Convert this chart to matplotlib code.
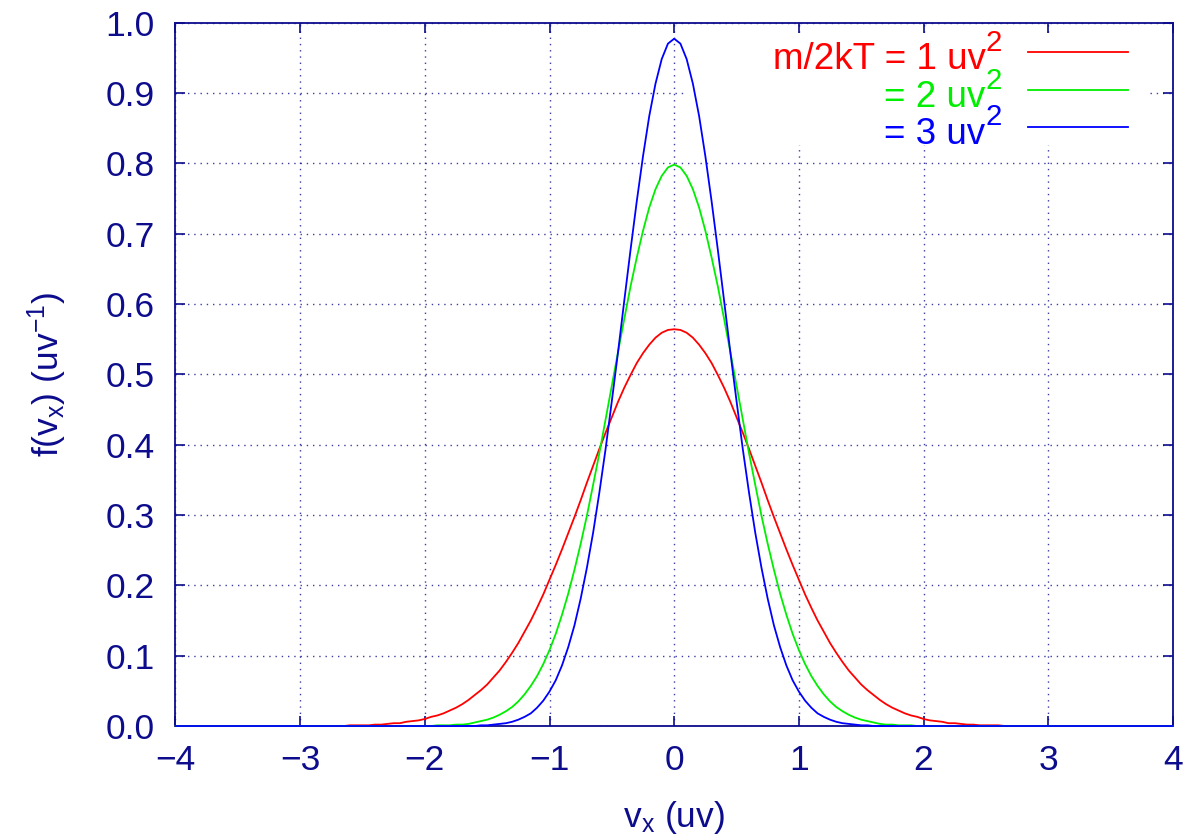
import numpy as np
import matplotlib
matplotlib.use('Agg')
import matplotlib.pyplot as plt
from matplotlib.ticker import FormatStrFormatter, MultipleLocator
from matplotlib.patches import Rectangle

# f(v_x) for v_x = 0, 0.05, ..., 3.0 (curves are symmetric)
v_half = [k / 20 for k in range(0, 61)]

f1_half = [0.564, 0.563, 0.559, 0.552, 0.542, 0.530, 0.516, 0.499, 0.481, 0.461,
           0.439, 0.417, 0.394, 0.370, 0.346, 0.321, 0.297, 0.274, 0.251, 0.229,
           0.208, 0.187, 0.168, 0.150, 0.134, 0.118, 0.104, 0.091, 0.079, 0.069,
           0.059, 0.051, 0.044, 0.037, 0.031, 0.026, 0.022, 0.018, 0.015, 0.013,
           0.010, 0.008, 0.007, 0.006, 0.004, 0.004, 0.003, 0.002, 0.002, 0.001,
           0.001, 0.001, 0.001, 0.000, 0.000, 0.000, 0.000, 0.000, 0.000, 0.000,
           0.000]

f2_half = [0.798, 0.794, 0.782, 0.763, 0.737, 0.704, 0.666, 0.625, 0.579, 0.532,
           0.484, 0.436, 0.388, 0.343, 0.299, 0.259, 0.222, 0.188, 0.158, 0.131,
           0.108, 0.088, 0.071, 0.057, 0.045, 0.035, 0.027, 0.021, 0.016, 0.012,
           0.009, 0.007, 0.005, 0.003, 0.002, 0.002, 0.001, 0.001, 0.001, 0.000,
           0.000, 0.000, 0.000, 0.000, 0.000, 0.000, 0.000, 0.000, 0.000, 0.000,
           0.000, 0.000, 0.000, 0.000, 0.000, 0.000, 0.000, 0.000, 0.000, 0.000,
           0.000]

f3_half = [0.977, 0.970, 0.948, 0.913, 0.867, 0.810, 0.746, 0.677, 0.605, 0.532,
           0.462, 0.394, 0.332, 0.275, 0.225, 0.181, 0.143, 0.112, 0.086, 0.065,
           0.049, 0.036, 0.026, 0.018, 0.013, 0.009, 0.006, 0.004, 0.003, 0.002,
           0.001, 0.001, 0.000, 0.000, 0.000, 0.000, 0.000, 0.000, 0.000, 0.000,
           0.000, 0.000, 0.000, 0.000, 0.000, 0.000, 0.000, 0.000, 0.000, 0.000,
           0.000, 0.000, 0.000, 0.000, 0.000, 0.000, 0.000, 0.000, 0.000, 0.000,
           0.000]

x_range = [-4.0, 4.0]
key_labels = ['m/2kT = 1 uv', '= 2 uv', '= 3 uv']
colors = ['#ff0000', '#00ee00', '#0000ff']


def mirror(half, neg=False):
    left = [-h for h in half[:0:-1]] if neg else half[:0:-1]
    return left + half


v = [x_range[0]] + mirror(v_half, neg=True) + [x_range[1]]
series = [[0.0] + mirror(h) + [0.0] for h in (f1_half, f2_half, f3_half)]

navy = '#0c0c8c'
plt.rcParams['font.family'] = ['Liberation Sans', 'DejaVu Sans']
plt.rcParams['mathtext.fontset'] = 'custom'
plt.rcParams['mathtext.rm'] = 'Liberation Sans'
font_size = 25.5
key_size = 26.5

fig = plt.figure(figsize=(11.96, 8.4), dpi=100)
ax = fig.add_axes([0.1467, 0.1357, 0.8340, 0.8375])
ax.set_axisbelow(True)

for y, c in zip(series, colors):
    ax.plot(v, y, color=c, lw=1.3, zorder=3, clip_on=False)

ax.set_xlim(*x_range)
ax.set_ylim(0, 1.0)
ax.xaxis.set_major_locator(MultipleLocator(1))
ax.yaxis.set_major_locator(MultipleLocator(0.1))
ax.yaxis.set_major_formatter(FormatStrFormatter('%.1f'))

ax.grid(True, color=navy, linestyle=(0, (1, 3.5)), lw=1.0, alpha=0.8)
ax.tick_params(direction='in', length=7.5, width=1.2, colors=navy,
               labelsize=font_size, top=True, right=True)
ax.tick_params(axis='x', pad=13)
ax.tick_params(axis='y', pad=15)
for s in ax.spines.values():
    s.set_color(navy)
    s.set_linewidth(1.3)

ax.set_xlabel('v$\\mathregular{_x}$ (uv)', fontsize=font_size, color=navy,
              labelpad=16)
ax.set_ylabel('f(v$\\mathregular{_x}$) (uv$\\mathregular{^{-1}}$)',
              fontsize=font_size, color=navy, labelpad=26)

# key area hides the grid
ax.add_patch(Rectangle((0.514, 0.826), 0.463, 0.158, transform=ax.transAxes,
                       facecolor='white', edgecolor='none', zorder=1))

line_y = [0.958, 0.904, 0.8515]
sup_w = 0.556 * key_size * 0.8
for lab, c, ly in zip(key_labels, colors, line_y):
    ax.plot([0.8546, 0.9549], [ly, ly], color=c, lw=1.3,
            transform=ax.transAxes, zorder=4)
    ax.annotate(lab, (0.8286, ly - 0.0235), xycoords='axes fraction',
                xytext=(-sup_w, 0), textcoords='offset points',
                color=c, fontsize=key_size, ha='right', va='baseline', zorder=4)
    ax.annotate('2', (0.8286, ly - 0.0235), xycoords='axes fraction',
                xytext=(0, 13), textcoords='offset points',
                color=c, fontsize=key_size * 0.8, ha='right', va='baseline',
                zorder=4)

fig.savefig('out.png', dpi=100)
